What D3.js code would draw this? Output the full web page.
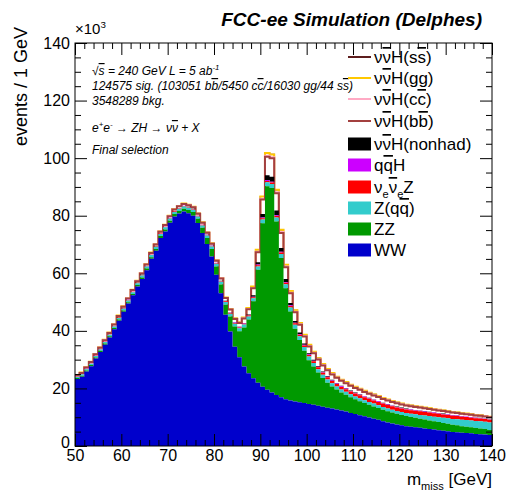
<!DOCTYPE html>
<html><head><meta charset="utf-8">
<script src="https://cdn.jsdelivr.net/npm/d3@7/dist/d3.min.js"></script>
<style>
body{margin:0;background:#fff;}
svg{display:block;font-family:"Liberation Sans",Arial,Helvetica,sans-serif;}
</style></head><body>
<svg id="c" width="508" height="495"></svg>
<script>
// ---- data (values in units of 10^3 events / 1 GeV), bins 50..139 GeV ----
const binLow = d3.range(50, 140, 1);
const xMajor = [50,60,70,80,90,100,110,120,130,140];
const yMajor = [0,20,40,60,80,100,120,140];

const ww = [23.25,24.02,25.87,27.73,30.39,32.65,35.21,37.67,40.53,43.48,
  46.64,49.50,52.33,55.39,58.03,61.07,65.01,67.85,72.28,74.53,
  77.53,79.76,80.76,81.47,80.88,79.96,77.43,73.99,70.15,65.8,
  59.5,53.1,45.6,39.8,34.5,30.8,27.6,25.3,23.5,22.0,
  20.6,19.5,18.6,17.7,16.9,16.2,15.8,15.5,15.2,14.9,
  14.6,14.3,14.0,13.6,13.3,13.0,12.7,12.3,12.0,11.5,
  11.1,10.7,10.3,9.9,9.5,9.1,8.6,8.2,7.8,7.5,
  7.2,6.9,6.7,6.5,6.3,6.1,5.9,5.7,5.5,5.3,
  5.1,4.9,4.8,4.6,4.5,4.4,4.2,4.1,4.0,3.8];
const zz = [.35,.36,.37,.38,.39,.40,.41,.42,.43,.44,
  .45,.46,.48,.50,.52,.55,.58,.62,.66,.70,
  .75,.80,.88,.95,1.1,1.3,1.5,1.8,2.1,2.6,
  2.9,3.0,3.5,5.15,7.0,9.1,13.6,18.65,26.75,39.2,
  56.8,70.7,71.0,60.3,48.4,38.6,30.9,25.2,21.6,18.2,
  15.2,13.3,11.5,10.0,8.7,7.7,6.9,6.3,5.8,5.4,
  5.1,4.85,4.6,4.4,4.25,4.1,4.0,3.9,3.8,3.7,
  3.6,3.5,3.4,3.3,3.2,3.1,3.0,2.9,2.8,2.7,
  2.6,2.5,2.4,2.3,2.2,2.1,2.05,2.0,1.9,1.8];
const zqq = [.40,.42,.44,.46,.48,.50,.52,.54,.56,.58,
  .60,.62,.64,.66,.68,.70,.72,.73,.74,.75,
  .76,.77,.78,.79,.80,.81,.82,.84,.86,.88,
  .90,.92,.95,1.0,1.0,1.0,1.0,1.05,1.1,1.2,
  1.3,1.4,1.4,1.4,1.4,1.4,1.4,1.4,1.35,1.3,
  1.25,1.2,1.18,1.15,1.12,1.1,1.08,1.06,1.05,1.04,
  1.03,1.02,1.0,1.0,.98,.97,.96,.95,.95,.95,
  1.0,1.05,1.1,1.2,1.3,1.4,1.5,1.6,1.7,1.8,
  1.9,2.0,2.1,2.2,2.3,2.35,2.4,2.5,2.55,2.6];
const nnz = [.08,.08,.09,.09,.10,.10,.10,.11,.11,.12,
  .12,.12,.13,.13,.14,.14,.15,.15,.16,.16,
  .17,.17,.18,.18,.19,.19,.20,.20,.21,.22,
  .22,.23,.24,.25,.26,.27,.28,.30,.33,.37,
  .42,.47,.50,.50,.50,.50,.50,.50,.52,.55,
  .58,.62,.66,.70,.74,.78,.82,.86,.90,.95,
  1.0,1.03,1.06,1.09,1.12,1.15,1.18,1.2,1.22,1.24,
  1.25,1.25,1.25,1.25,1.25,1.24,1.23,1.22,1.2,1.18,
  1.15,1.12,1.1,1.07,1.04,1.0,.97,.94,.9,.88];
const qqh = [.06,.06,.06,.06,.06,.06,.06,.06,.06,.06,
  .07,.07,.07,.07,.07,.07,.07,.07,.07,.07,
  .08,.08,.08,.08,.09,.09,.09,.10,.10,.10,
  .11,.11,.12,.12,.12,.13,.14,.15,.20,.25,
  .30,.30,.30,.30,.30,.28,.26,.25,.24,.23,
  .22,.22,.21,.21,.20,.20,.20,.20,.20,.20,
  .20,.20,.20,.20,.20,.20,.20,.20,.20,.20,
  .19,.19,.19,.19,.19,.18,.18,.18,.18,.18,
  .17,.17,.17,.17,.17,.16,.16,.16,.16,.15];
const nonhad = [.03,.03,.03,.03,.03,.03,.03,.03,.03,.03,
  .03,.03,.03,.03,.03,.03,.03,.03,.03,.03,
  .03,.03,.03,.03,.03,.03,.03,.03,.03,.03,
  .05,.06,.07,.08,.10,.12,.15,.25,.50,.80,
  1.2,1.7,1.7,1.6,1.3,1.0,.8,.6,.5,.4,
  .35,.30,.27,.24,.22,.20,.18,.17,.16,.16,
  .15,.15,.14,.14,.13,.13,.12,.12,.11,.11,
  .11,.10,.10,.10,.10,.10,.09,.09,.09,.09,
  .09,.09,.08,.08,.08,.08,.08,.08,.08,.08];
const hbb = [.40,.40,.41,.42,.42,.43,.44,.44,.45,.46,
  .46,.47,.48,.48,.49,.50,.50,.51,.52,.52,
  .53,.54,.54,.55,.56,.57,.58,.59,.60,.62,
  .70,.80,.90,1.0,1.1,1.3,1.5,1.8,2.4,3.5,
  5.0,6.4,6.5,6.0,5.2,4.1,3.4,3.0,2.7,2.5,
  2.4,2.3,2.2,2.1,2.0,1.9,1.8,1.75,1.7,1.65,
  1.6,1.55,1.5,1.45,1.4,1.35,1.3,1.25,1.2,1.15,
  1.1,1.08,1.05,1.02,1.0,.97,.94,.92,.9,.87,
  .85,.83,.8,.78,.76,.74,.72,.7,.68,.66];
const hcc = [.03,.03,.03,.03,.03,.03,.03,.03,.03,.03,
  .03,.03,.03,.03,.03,.03,.03,.03,.03,.03,
  .03,.03,.03,.03,.03,.03,.03,.03,.03,.03,
  .04,.04,.05,.05,.06,.07,.08,.10,.12,.20,
  .25,.35,.35,.33,.30,.25,.20,.18,.16,.15,
  .14,.13,.12,.12,.11,.11,.10,.10,.10,.09,
  .09,.09,.08,.08,.08,.07,.07,.07,.07,.06,
  .06,.06,.06,.06,.06,.05,.05,.05,.05,.05,
  .05,.05,.05,.04,.04,.04,.04,.04,.04,.04];
const hgg = [.10,.10,.10,.10,.10,.10,.10,.10,.10,.10,
  .11,.11,.11,.11,.11,.11,.11,.11,.11,.11,
  .12,.12,.12,.12,.12,.12,.12,.12,.12,.12,
  .12,.13,.14,.15,.17,.20,.25,.30,.50,.65,
  .80,.95,.95,.87,.80,.65,.55,.50,.45,.42,
  .40,.38,.36,.35,.34,.33,.32,.31,.30,.30,
  .30,.29,.28,.28,.27,.26,.26,.25,.25,.24,
  .24,.23,.23,.22,.22,.21,.21,.20,.20,.20,
  .19,.19,.18,.18,.17,.17,.16,.16,.15,.15];
const hss = [0,0,0,0,0,0,0,0,0,0,
  0,0,0,0,0,0,0,0,0,0,
  0,0,0,0,0,0,0,0,0,0,
  0,0,0,0,0,0,0,0,.002,.003,
  .005,.008,.008,.006,.004,.003,.002,.002,.001,.001,
  .001,.001,.001,.001,.001,.001,.001,.001,.001,.001,
  0,0,0,0,0,0,0,0,0,0,
  0,0,0,0,0,0,0,0,0,0,
  0,0,0,0,0,0,0,0,0,0];

// stack order bottom -> top
const series = [
  {key:'WW', vals:ww, color:'#0000cc', fill:true},
  {key:'ZZ', vals:zz, color:'#009900', fill:true},
  {key:'Zqq', vals:zqq, color:'#33cccc', fill:true},
  {key:'nnZ', vals:nnz, color:'#ff0000', fill:true},
  {key:'qqH', vals:qqh, color:'#cc00ff', fill:true},
  {key:'nonhad', vals:nonhad, color:'#000000', fill:true},
  {key:'bb', vals:hbb, color:'#a3403f', fill:false, w:2},
  {key:'cc', vals:hcc, color:'#ffaac4', fill:false, w:2},
  {key:'gg', vals:hgg, color:'#ffc800', fill:false, w:2},
  {key:'ss', vals:hss, color:'#5e1e1e', fill:false, w:1.2}
];

const svg = d3.select('#c');
const L=75, R=492, T=43, B=446;
const x = d3.scaleLinear().domain([50,140]).range([L,R]);
const y = d3.scaleLinear().domain([0,140]).range([B,T]);

const table = binLow.map((b,i)=>{const o={b}; series.forEach(s=>o[s.key]=s.vals[i]); return o;});
const stacked = d3.stack().keys(series.map(s=>s.key))(table);
function pts(layer){
  const p = layer.map(d=>({x:d.data.b, y0:d[0], y1:d[1]}));
  const last = p[p.length-1];
  p.push({x:140, y0:last.y0, y1:last.y1});
  return p;
}
svg.append('clipPath').attr('id','fr').append('rect').attr('x',L).attr('y',T).attr('width',R-L).attr('height',B-T);
const plot = svg.append('g').attr('clip-path','url(#fr)');
const area = d3.area().curve(d3.curveStepAfter).x(d=>x(d.x)).y0(d=>y(d.y0)).y1(d=>y(d.y1));
const line = d3.line().curve(d3.curveStepAfter).x(d=>x(d.x)).y(d=>y(d.y1));

// ROOT THStack paints top-most first
for (let i=series.length-1;i>=0;i--){
  const s=series[i];
  if(!s.fill){
    plot.append('path').attr('d',line(pts(stacked[i]))).attr('fill','none')
      .attr('stroke',s.color).attr('stroke-width',s.w);
  }
}
for (let i=series.length-1;i>=0;i--){
  const s=series[i];
  if(s.fill){
    plot.append('path').attr('d',area(pts(stacked[i]))).attr('fill',s.color).attr('stroke','none');
  }
}

// axes
const xMinor = d3.range(50,141,2).filter(v=>v%10!==0);
const yMinor = d3.range(0,141,5).filter(v=>v%20!==0);
function styleAxis(g){ g.select('.domain').remove(); g.selectAll('line').attr('stroke','#000'); g.selectAll('text').attr('font-size',16).attr('fill','#000').attr('font-family','"Liberation Sans",Arial,sans-serif'); }
svg.append('g').attr('transform',`translate(0,${B})`)
  .call(d3.axisBottom(x).tickValues(xMajor).tickSizeInner(-12).tickSizeOuter(0).tickPadding(4).tickFormat(d3.format('d'))).call(styleAxis);
svg.append('g').attr('transform',`translate(0,${B})`)
  .call(d3.axisBottom(x).tickValues(xMinor).tickSizeInner(-6).tickSizeOuter(0).tickFormat('')).call(styleAxis);
svg.append('g').attr('transform',`translate(0,${T})`)
  .call(d3.axisTop(x).tickValues(xMajor).tickSizeInner(-12).tickSizeOuter(0).tickFormat('')).call(styleAxis);
svg.append('g').attr('transform',`translate(0,${T})`)
  .call(d3.axisTop(x).tickValues(xMinor).tickSizeInner(-6).tickSizeOuter(0).tickFormat('')).call(styleAxis);
const gy = svg.append('g').attr('transform',`translate(${L},0)`)
  .call(d3.axisLeft(y).tickValues(yMajor).tickSizeInner(-12).tickSizeOuter(0).tickPadding(5).tickFormat(d3.format('d'))).call(styleAxis);
// the "0" label sits slightly above the x labels, as in the reference
gy.selectAll('text').filter(d=>d===0).attr('dy','0.1em');
svg.append('g').attr('transform',`translate(${L},0)`)
  .call(d3.axisLeft(y).tickValues(yMinor).tickSizeInner(-6).tickSizeOuter(0).tickFormat('')).call(styleAxis);
svg.append('g').attr('transform',`translate(${R},0)`)
  .call(d3.axisRight(y).tickValues(yMajor).tickSizeInner(-12).tickSizeOuter(0).tickFormat('')).call(styleAxis);
svg.append('g').attr('transform',`translate(${R},0)`)
  .call(d3.axisRight(y).tickValues(yMinor).tickSizeInner(-6).tickSizeOuter(0).tickFormat('')).call(styleAxis);

svg.append('rect').attr('x',L).attr('y',T).attr('width',R-L).attr('height',B-T)
  .attr('fill','none').attr('stroke','#000').attr('stroke-width',1);

// rich text helper
function rich(sel, segs, size){
  let off=0;
  segs.forEach(s=>{
    const ts = sel.append('tspan').text(s.t);
    const target = s.sub ? 0.3*size : (s.sup ? -0.42*size : 0);
    if (target!==off){ ts.attr('dy', target-off); off=target; }
    if (s.sub||s.sup) ts.attr('font-size', size*0.65);
    if (s.over) ts.style('text-decoration','overline');
  });
}

// titles
svg.append('text').attr('x',482).attr('y',26).attr('text-anchor','end')
  .attr('font-size',19).attr('font-weight','bold').attr('font-style','italic')
  .text('FCC-ee Simulation (Delphes)');
rich(svg.append('text').attr('x',75).attr('y',34).attr('font-size',15),
  [{t:'×10'},{t:'3',sup:true}], 15);
svg.append('text').attr('transform','translate(27,27) rotate(-90)').attr('text-anchor','end')
  .attr('font-size',18).text('events / 1 GeV');
rich(svg.append('text').attr('x',492).attr('y',485).attr('text-anchor','end').attr('font-size',17),
  [{t:'m'},{t:'miss',sub:true},{t:' [GeV]'}], 17);

// annotations
const ann = [
  {y:75, segs:[{t:'√'},{t:'s',over:true},{t:' = 240 GeV  L = 5 ab'},{t:'-1',sup:true}]},
  {y:90, segs:[{t:'124575 sig. (103051 b'},{t:'b',over:true},{t:'/5450 c'},{t:'c',over:true},{t:'/16030 gg/44 s'},{t:'s',over:true},{t:')'}]},
  {y:105, segs:[{t:'3548289 bkg.'}]},
  {y:132, segs:[{t:'e'},{t:'+',sup:true},{t:'e'},{t:'-',sup:true},{t:' → ZH → ν'},{t:'ν',over:true},{t:' + X'}]},
  {y:154, segs:[{t:'Final selection'}]}
];
ann.forEach(a=>{
  rich(svg.append('text').attr('x',92).attr('y',a.y).attr('font-size',12).attr('font-style','italic'), a.segs, 12);
});

// legend
const legend = [
  {segs:[{t:'ν'},{t:'ν',over:true},{t:'H(s'},{t:'s',over:true},{t:')'}], s:'ss'},
  {segs:[{t:'ν'},{t:'ν',over:true},{t:'H(gg)'}], s:'gg'},
  {segs:[{t:'ν'},{t:'ν',over:true},{t:'H(c'},{t:'c',over:true},{t:')'}], s:'cc'},
  {segs:[{t:'ν'},{t:'ν',over:true},{t:'H(b'},{t:'b',over:true},{t:')'}], s:'bb'},
  {segs:[{t:'ν'},{t:'ν',over:true},{t:'H(nonhad)'}], s:'nonhad'},
  {segs:[{t:'q'},{t:'q',over:true},{t:'H'}], s:'qqH'},
  {segs:[{t:'ν'},{t:'e',sub:true},{t:'ν',over:true},{t:'e',sub:true},{t:'Z'}], s:'nnZ'},
  {segs:[{t:'Z(q'},{t:'q',over:true},{t:')'}], s:'Zqq'},
  {segs:[{t:'ZZ'}], s:'ZZ'},
  {segs:[{t:'WW'}], s:'WW'}
];
const rowY = [57,78,99,121,144,165,187,208,229,250];
legend.forEach((e,i)=>{
  const s = series.find(d=>d.key===e.s);
  const cy = rowY[i];
  if (s.fill){
    svg.append('rect').attr('x',348).attr('y',cy-6.5).attr('width',23).attr('height',13).attr('fill',s.color);
  } else {
    svg.append('line').attr('x1',348).attr('x2',371).attr('y1',cy).attr('y2',cy)
      .attr('stroke',s.color).attr('stroke-width',2);
  }
  rich(svg.append('text').attr('x',374).attr('y',cy+6).attr('font-size',17), e.segs, 17);
});
</script>
</body></html>
